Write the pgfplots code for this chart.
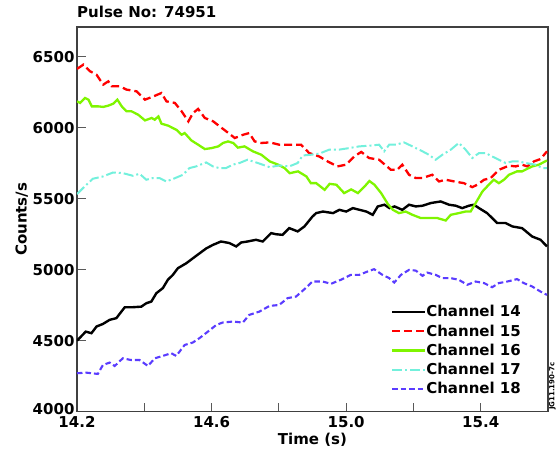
\documentclass[border=0pt]{standalone}
\usepackage{fontspec}
\setmainfont{DejaVu Sans}
\usepackage{pgfplots}
\pgfplotsset{compat=1.18}

\definecolor{chred}{RGB}{255,0,0}
\definecolor{chgreen}{RGB}{127,245,0}
\definecolor{chcyan}{RGB}{115,240,220}
\definecolor{chblue}{RGB}{90,60,255}

\newcommand{\lblfont}{\bfseries\fontsize{15}{15}\selectfont}

\begin{document}
\begin{tikzpicture}
\path[use as bounding box] (0,0) rectangle (557pt,450pt);
\begin{axis}[
    at={(77pt,38.3pt)}, anchor=south west,
    scale only axis, width=471pt, height=384.7pt,
    xmin=14.2, xmax=15.6, ymin=4000, ymax=6710,
    xtick={14.2,14.6,15.0,15.4},
    minor xtick={14.4,14.8,15.2},
    ytick={4000,4500,5000,5500,6000,6500},
    yticklabels={\raisebox{5pt}{4000},4500,5000,5500,6000,6500},
    tick align=inside, xtick pos=bottom, ytick pos=left,
    major tick length=9pt, minor tick length=9pt,
    tick style={black!65, line width=1pt},
    axis line style={black!75, line width=1.2pt},
    /pgf/number format/assume math mode=true,
    x tick label style={yshift=-1pt, /pgf/number format/fixed, /pgf/number format/fixed zerofill, /pgf/number format/precision=1},
    y tick label style={xshift=1pt},
    tick label style={font=\lblfont},
    label style={font=\lblfont},
    xlabel={Time (s)},
    ylabel={Counts/s},
    xlabel style={at={(axis description cs:0.5,-0.0736)}, anchor=center},
    ylabel style={at={(axis description cs:-0.1174,0.5)}, anchor=center},
    title={Pulse No: 74951},
    title style={at={(axis description cs:0,1)}, anchor=base west, inner sep=0pt, yshift=3pt, font=\lblfont},
    no markers,
    legend cell align=left,
    legend image code/.code={\draw[#1] (0pt,0pt) -- (33pt,0pt);},
    legend style={draw=none, fill=none, inner sep=0pt,
        at={(rel axis cs:0.666,0.278)}, anchor=north west,
        font=\lblfont, row sep=5.2pt,
        nodes={inner sep=0pt, text height=12pt, text depth=2pt},
        /tikz/every even column/.append style={column sep=4pt}},
]

% Channel 14
\addplot[black, line width=2.4pt] coordinates {
(14.200,4500)(14.226,4564)(14.243,4553)(14.258,4600)(14.277,4618)(14.297,4647)
(14.317,4659)(14.342,4736)(14.366,4736)(14.391,4740)(14.406,4764)(14.421,4776)
(14.436,4835)(14.455,4870)(14.470,4929)(14.485,4964)(14.500,5011)(14.525,5046)
(14.544,5080)(14.564,5115)(14.584,5150)(14.604,5175)(14.628,5199)(14.653,5188)
(14.673,5164)(14.688,5192)(14.707,5199)(14.732,5211)(14.752,5199)(14.777,5258)
(14.792,5250)(14.811,5246)(14.831,5293)(14.856,5270)(14.876,5305)(14.900,5375)
(14.911,5399)(14.931,5410)(14.961,5399)(14.980,5422)(15.000,5410)(15.020,5434)
(15.040,5422)(15.060,5410)(15.079,5387)(15.094,5446)(15.114,5458)(15.129,5434)
(15.144,5446)(15.167,5422)(15.187,5458)(15.207,5446)(15.227,5451)(15.252,5470)
(15.281,5481)(15.306,5458)(15.326,5451)(15.345,5434)(15.365,5451)(15.380,5458)
(15.395,5434)(15.419,5399)(15.449,5329)(15.474,5329)(15.494,5305)(15.523,5293)
(15.553,5234)(15.578,5211)(15.597,5164)
};
\addlegendentry{Channel 14}

% Channel 15
\addplot[chred, line width=2.3pt, dash pattern=on 8pt off 4pt] coordinates {
(14.200,6415)(14.204,6421)(14.219,6445)(14.239,6398)(14.258,6374)(14.278,6304)(14.293,6327)
(14.303,6292)(14.328,6292)(14.347,6269)(14.377,6257)(14.402,6198)(14.427,6221)
(14.451,6245)(14.466,6186)(14.491,6175)(14.511,6116)(14.531,6045)(14.545,6104)
(14.560,6133)(14.580,6069)(14.605,6045)(14.624,6010)(14.644,5974)(14.669,5928)
(14.694,5951)(14.712,5963)(14.728,5904)(14.748,5893)(14.773,5897)(14.801,5881)
(14.866,5881)(14.890,5822)(14.920,5798)(14.945,5763)(14.974,5728)(15.000,5740)
(15.025,5800)(15.045,5830)(15.068,5787)(15.098,5775)(15.133,5704)(15.152,5704)
(15.167,5740)(15.187,5669)(15.207,5646)(15.227,5646)(15.256,5669)(15.276,5622)
(15.296,5634)(15.321,5622)(15.350,5610)(15.375,5582)(15.390,5599)(15.410,5634)
(15.430,5646)(15.454,5704)(15.484,5733)(15.504,5728)(15.523,5740)(15.538,5728)
(15.558,5763)(15.578,5780)(15.597,5834)
};
\addlegendentry{Channel 15}

% Channel 16
\addplot[chgreen, line width=2.3pt] coordinates {
(14.200,6186)(14.209,6175)(14.224,6210)(14.234,6198)(14.244,6151)(14.263,6151)
(14.278,6147)(14.293,6156)(14.308,6170)(14.320,6198)(14.333,6151)(14.347,6116)
(14.362,6116)(14.382,6092)(14.402,6052)(14.422,6069)(14.431,6057)(14.442,6080)
(14.451,6029)(14.471,6015)(14.496,5985)(14.511,5951)(14.520,5963)(14.540,5911)
(14.560,5881)(14.580,5850)(14.600,5857)(14.620,5869)(14.634,5893)(14.649,5904)
(14.664,5893)(14.678,5860)(14.698,5869)(14.723,5834)(14.748,5810)(14.773,5763)
(14.798,5740)(14.817,5716)(14.832,5680)(14.857,5693)(14.882,5657)(14.895,5610)
(14.911,5610)(14.936,5563)(14.951,5605)(14.971,5599)(14.994,5540)(15.015,5566)
(15.035,5540)(15.055,5587)(15.069,5625)(15.084,5599)(15.104,5540)(15.124,5463)
(15.139,5422)(15.157,5399)(15.177,5410)(15.197,5387)(15.222,5364)(15.246,5364)
(15.271,5364)(15.296,5347)(15.311,5387)(15.335,5399)(15.355,5410)(15.370,5410)
(15.385,5470)(15.405,5551)(15.424,5599)(15.439,5634)(15.454,5610)(15.469,5634)
(15.484,5669)(15.508,5693)(15.523,5693)(15.553,5728)(15.573,5740)(15.597,5770)
};
\addlegendentry{Channel 16}

% Channel 17
\addplot[chcyan, line width=2pt, dash pattern=on 10pt off 3pt on 2pt off 3pt] coordinates {
(14.200,5533)(14.223,5587)(14.247,5641)(14.277,5657)(14.307,5685)(14.336,5681)
(14.366,5662)(14.386,5676)(14.406,5634)(14.425,5646)(14.445,5646)(14.465,5622)
(14.485,5639)(14.515,5669)(14.534,5716)(14.554,5728)(14.584,5756)(14.604,5728)
(14.623,5716)(14.643,5716)(14.663,5740)(14.683,5752)(14.707,5775)(14.732,5756)
(14.752,5740)(14.773,5722)(14.801,5735)(14.831,5728)(14.856,5752)(14.871,5805)
(14.895,5810)(14.920,5818)(14.950,5846)(14.979,5846)(15.009,5857)(15.039,5869)
(15.069,5874)(15.098,5881)(15.113,5834)(15.128,5881)(15.148,5881)(15.172,5897)
(15.197,5869)(15.227,5834)(15.246,5810)(15.266,5775)(15.286,5810)(15.311,5846)
(15.335,5893)(15.355,5846)(15.375,5787)(15.395,5822)(15.415,5822)(15.434,5798)
(15.454,5775)(15.474,5752)(15.494,5763)(15.513,5763)(15.533,5752)(15.563,5740)
(15.583,5716)(15.597,5716)
};
\addlegendentry{Channel 17}

% Channel 18
\addplot[chblue, line width=2.1pt, dash pattern=on 5.5pt off 3pt] coordinates {
(14.200,4271)(14.228,4275)(14.262,4266)(14.277,4329)(14.297,4346)(14.312,4322)
(14.336,4376)(14.361,4364)(14.386,4364)(14.411,4322)(14.431,4376)(14.455,4393)
(14.480,4412)(14.495,4393)(14.520,4470)(14.544,4487)(14.564,4518)(14.589,4564)
(14.614,4611)(14.633,4628)(14.663,4635)(14.693,4628)(14.712,4682)(14.742,4705)
(14.772,4745)(14.801,4752)(14.826,4800)(14.851,4811)(14.876,4863)(14.900,4917)
(14.930,4917)(14.955,4901)(14.984,4929)(15.014,4964)(15.039,4964)(15.063,4987)
(15.083,5004)(15.108,4964)(15.128,4941)(15.143,4910)(15.163,4964)(15.187,4999)
(15.207,4994)(15.227,4957)(15.241,4980)(15.266,4964)(15.286,4941)(15.311,4941)
(15.335,4929)(15.360,4894)(15.385,4917)(15.410,4906)(15.434,4877)(15.454,4906)
(15.479,4917)(15.508,4934)(15.528,4906)(15.553,4882)(15.578,4846)(15.597,4823)
};
\addlegendentry{Channel 18}

\end{axis}
\node[rotate=90, anchor=west, inner sep=0pt, font=\bfseries\fontsize{7}{7}\selectfont] at (552.5pt,40pt) {JG11.190-7c};
\end{tikzpicture}
\end{document}
